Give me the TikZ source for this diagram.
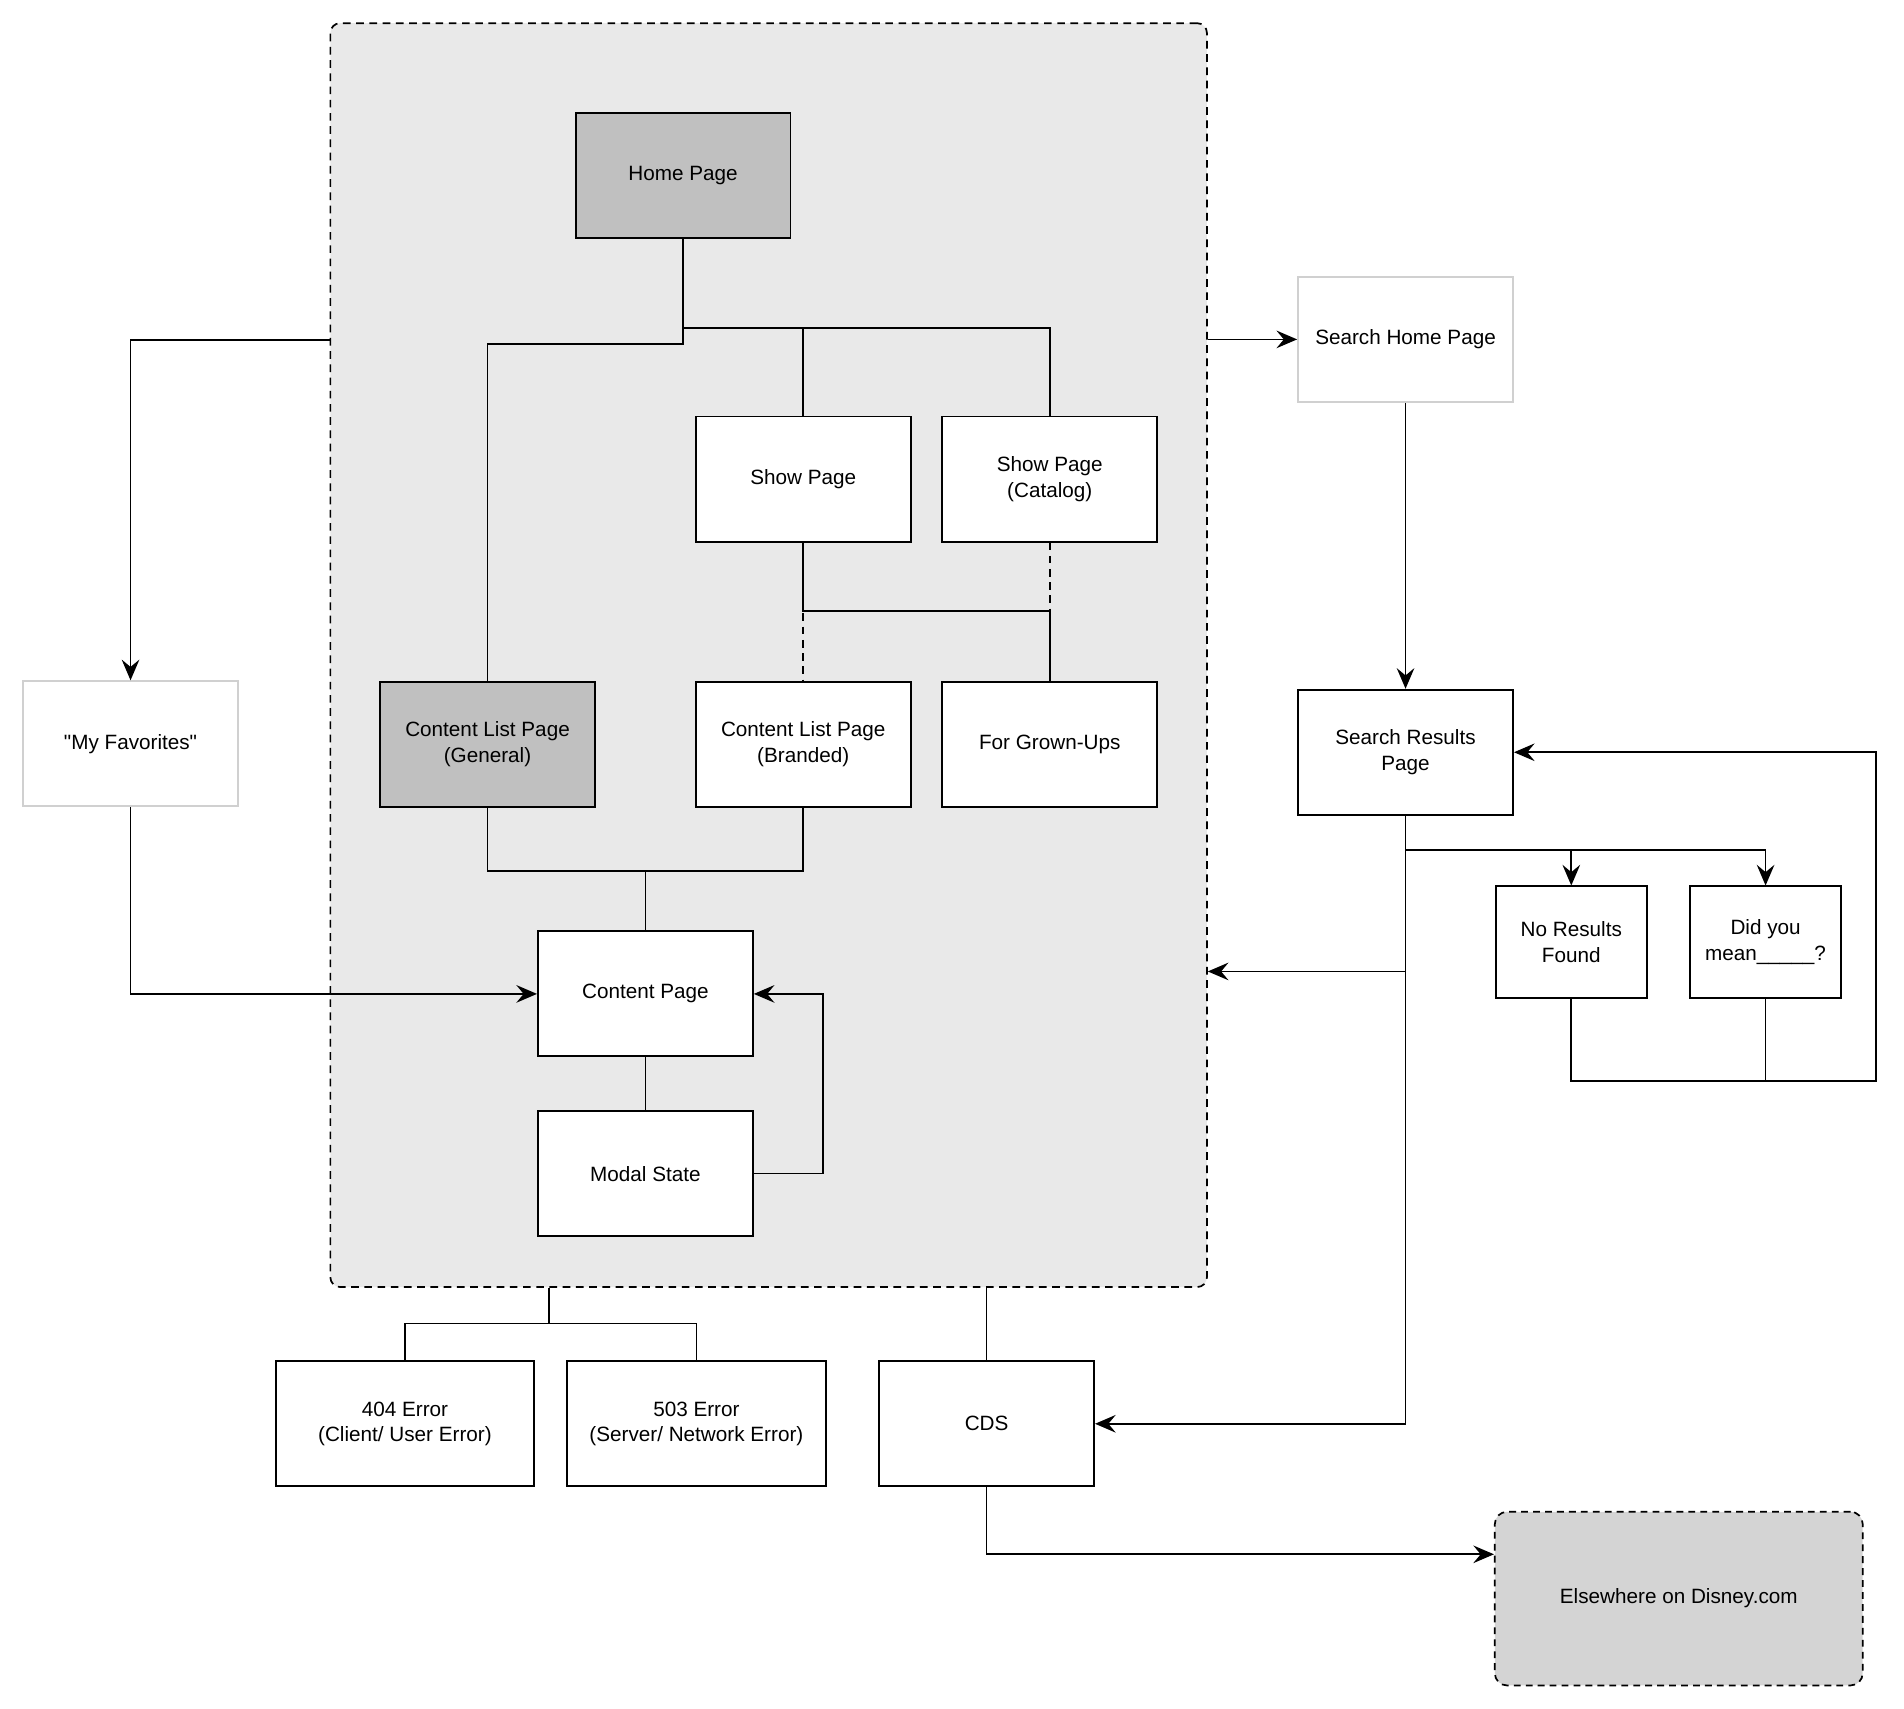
\documentclass[tikz,border=0pt]{standalone}
\usepackage{fontspec}
\setmainfont{Liberation Sans}[Ligatures=TeXOff]
\usetikzlibrary{arrows.meta}

\definecolor{sitegray}{RGB}{233,233,233}
\definecolor{keygray}{RGB}{192,192,192}
\definecolor{awaygray}{RGB}{212,212,212}
\definecolor{softline}{RGB}{208,208,208}

\begin{document}
\begin{tikzpicture}[x=0.02cm, y=-0.02cm,
		every node/.style={font=\fontsize{9.7}{12}\selectfont, align=center},
		page/.style={draw=black, line width=0.9pt, fill=white, minimum width=3.54cm, minimum height=2.06cm, inner sep=2pt},
		keypage/.style={page, fill=keygray},
		softpage/.style={page, draw=softline},
		smallpage/.style={page, minimum width=2.48cm, minimum height=1.84cm},
		errpage/.style={page, minimum width=4.26cm},
		sitebox/.style={draw=black, line width=0.8pt, dash pattern=on 3.6pt off 2.6pt, rounded corners=0.16cm, fill=sitegray, minimum width=14.44cm, minimum height=20.82cm},
		awaybox/.style={draw=black, line width=0.8pt, dash pattern=on 3.2pt off 2.4pt, rounded corners=0.2cm, fill=awaygray, minimum width=6.06cm, minimum height=2.86cm},
		wire/.style={line width=0.8pt},
		dashwire/.style={wire, dash pattern=on 3.6pt off 2.6pt},
		arrow/.style={wire, -{Stealth[length=3.4mm, width=2.9mm, inset=1.2mm]}}]
		\path[use as bounding box, fill=white] (0,0) rectangle (1568,1407);
		% Paths, nodes and wires:
		\node[sitebox] (site) at (633, 539.5){};
		\node[keypage] (home) at (562.5, 144.5){Home Page};
		\node[page] (show) at (661.5, 394.5){Show Page};
		\node[page] (showcat) at (864.5, 394.5){Show Page\\(Catalog)};
		\node[keypage] (clpgen) at (401.5, 613){Content List Page\\(General)};
		\node[page] (clpbrand) at (661.5, 613){Content List Page\\(Branded)};
		\node[page] (grownups) at (864.5, 613){For Grown-Ups};
		\node[page] (content) at (531.5, 818.5){Content Page};
		\node[page] (modal) at (531.5, 966.5){Modal State};
		\node[softpage] (fav) at (107.5, 612.5){"My Favorites"};
		\node[softpage] (searchhome) at (1157.5, 279.5){Search Home Page};
		\node[page] (searchres) at (1157.5, 619.5){Search Results\\Page};
		\node[smallpage] (noresults) at (1294, 776){No Results\\Found};
		\node[smallpage] (didyou) at (1454, 776){Did you\\mean\_\_\_\_\_?};
		\node[errpage] (err404) at (333.5, 1172.5){404 Error\\(Client/ User Error)};
		\node[errpage] (err503) at (573.5, 1172.5){503 Error\\(Server/ Network Error)};
		\node[page] (cds) at (812.5, 1172.5){CDS};
		\node[awaybox] (away) at (1382.5, 1316.5){Elsewhere on Disney.com};
		\coordinate (hub) at (562.5, 270);
		\coordinate (showhub) at (661.5, 503);
		\coordinate (merge) at (531.5, 717);
		\coordinate (split) at (1157.5, 700);
		\coordinate (errhub) at (452, 1090);
		\draw[wire] (home.south) -- (home.south |- 0,283) -| (clpgen.north);
		\draw[wire] (hub) -| (show.north);
		\draw[wire] (hub) -| (showcat.north);
		\draw[wire] (show.south) -- (showhub) -| (grownups.north);
		\draw[dashwire] (showcat.south) |- (showhub) -- (clpbrand.north);
		\draw[wire] (clpgen.south) |- (merge) -| (clpbrand.south);
		\draw[wire] (merge) -- (content.north);
		\draw[wire] (content.south) -- (modal.north);
		\draw[arrow] (modal.east) -- ++(57, 0) |- (content.east);
		\draw[arrow] (site.west |- 0,280) -| (fav.north);
		\draw[arrow] (fav.south) |- (content.west);
		\draw[arrow] (site.east |- searchhome.west) -- (searchhome.west);
		\draw[arrow] (searchhome.south) -- (searchres.north);
		\draw[arrow] (split) -| (noresults.north);
		\draw[arrow] (split) -| (didyou.north);
		\draw[arrow] (searchres.south) |- (cds.east);
		\draw[arrow] (searchres.south |- 0,800) -- (site.east |- 0,800);
		\draw[arrow] (noresults.south) |- (1545, 890) |- (searchres.east);
		\draw[wire] (didyou.south) -- (didyou.south |- 0,890);
		\draw[wire] (site.south -| errhub) -- (errhub);
		\draw[wire] (errhub) -| (err404.north);
		\draw[wire] (errhub) -| (err503.north);
		\draw[wire] (site.south -| cds.north) -- (cds.north);
		\draw[arrow] (cds.south) |- (away.west |- 0,1280);
\end{tikzpicture}
\end{document}
